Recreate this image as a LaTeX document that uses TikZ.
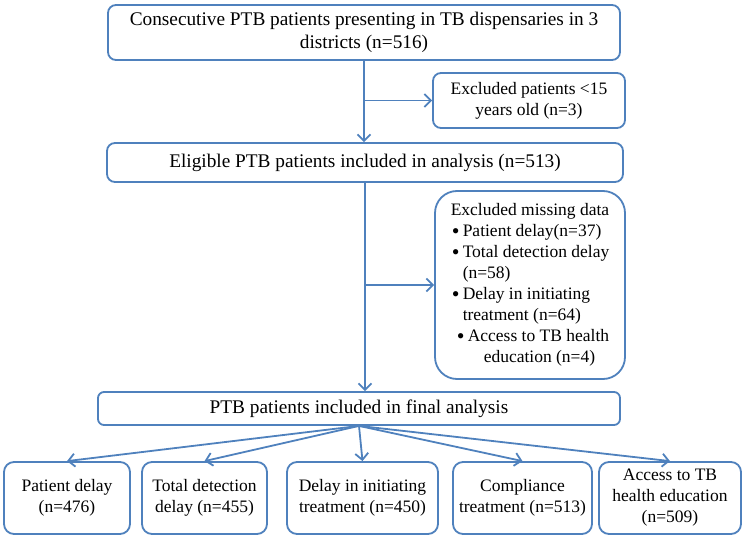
\documentclass[tikz,border=0pt]{standalone}
\usepackage{fontspec}
\setmainfont{Liberation Serif}
\usetikzlibrary{arrows.meta}
\definecolor{flowblue}{RGB}{79,129,189}
\tikzset{
  flowbox/.style={draw=flowblue, line width=1.8pt, rounded corners=8pt, fill=white, align=center, inner sep=0pt, font=\fontsize{17.5}{21}\selectfont},
  bigbox/.style={flowbox, font=\fontsize{19.3}{23}\selectfont},
  flowarrow/.style={draw=flowblue, line width=1.8pt, -{Straight Barb[length=6.5pt,width=13pt,line width=1.8pt]}},
  flowline/.style={draw=flowblue, line width=1.8pt}
}
\newcommand{\bul}{\makebox[12pt][l]{\hspace{1pt}\raisebox{-1.8pt}{\fontsize{22}{21}\selectfont\textbullet}}}
\begin{document}
\begin{tikzpicture}[x=1pt, y=-1pt]
\useasboundingbox (0,0) rectangle (747,540);
% main column
\node[bigbox, minimum width=512pt, minimum height=55pt] (consec) at (364,32.5) {Consecutive PTB patients presenting in TB dispensaries in 3\\ districts (n=516)};
\node[flowbox, minimum width=192pt, minimum height=55pt] (young) at (529,100.5) {Excluded patients <15\\ years old (n=3)};
\node[bigbox, minimum width=516pt, minimum height=39pt] (eligible) at (365,162.5) {Eligible PTB patients included in analysis (n=513)};
\node[flowbox, rounded corners=22pt, minimum width=190pt, minimum height=188pt, align=left] (missing) at (530,285) {Excluded missing data\\
\bul Patient delay(n=37)\\
\bul Total detection delay\\
\hspace*{12pt}(n=58)\\
\bul Delay in initiating\\
\hspace*{12pt}treatment (n=64)\\
\hspace*{5pt}\bul Access to TB health\\
\hspace*{33pt}education (n=4)};
\node[bigbox, rounded corners=6pt, minimum width=522pt, minimum height=33pt] (final) at (359,408.5) {PTB patients included in final analysis};
% outcome boxes
\node[flowbox, rounded corners=10pt, minimum width=126pt, minimum height=72pt] (pdelay) at (67,498) {Patient delay\\ (n=476)};
\node[flowbox, rounded corners=10pt, minimum width=125pt, minimum height=72pt] (tdelay) at (204.5,498) {Total detection\\ delay (n=455)};
\node[flowbox, rounded corners=10pt, minimum width=151pt, minimum height=72pt] (idelay) at (362.5,498) {Delay in initiating\\ treatment (n=450)};
\node[flowbox, rounded corners=10pt, minimum width=139pt, minimum height=72pt] (comply) at (522.5,498) {Compliance\\ treatment (n=513)};
\node[flowbox, rounded corners=10pt, minimum width=142pt, minimum height=72pt] (access) at (670,498) {Access to TB\\ health education\\ (n=509)};
% connectors
\coordinate (j1) at (consec.south |- young.west);
\coordinate (j2) at (eligible.south |- missing.west);
\draw[flowarrow] (consec.south) -- (consec.south |- eligible.north);
\draw[flowarrow] (j1) -- (young.west);
\draw[flowarrow] (eligible.south) -- (eligible.south |- final.north);
\draw[flowarrow] (j2) -- (missing.west);
\foreach \target in {pdelay,tdelay,idelay,comply,access}
  \draw[flowarrow] (final.south) -- (\target.north);
\end{tikzpicture}
\end{document}
